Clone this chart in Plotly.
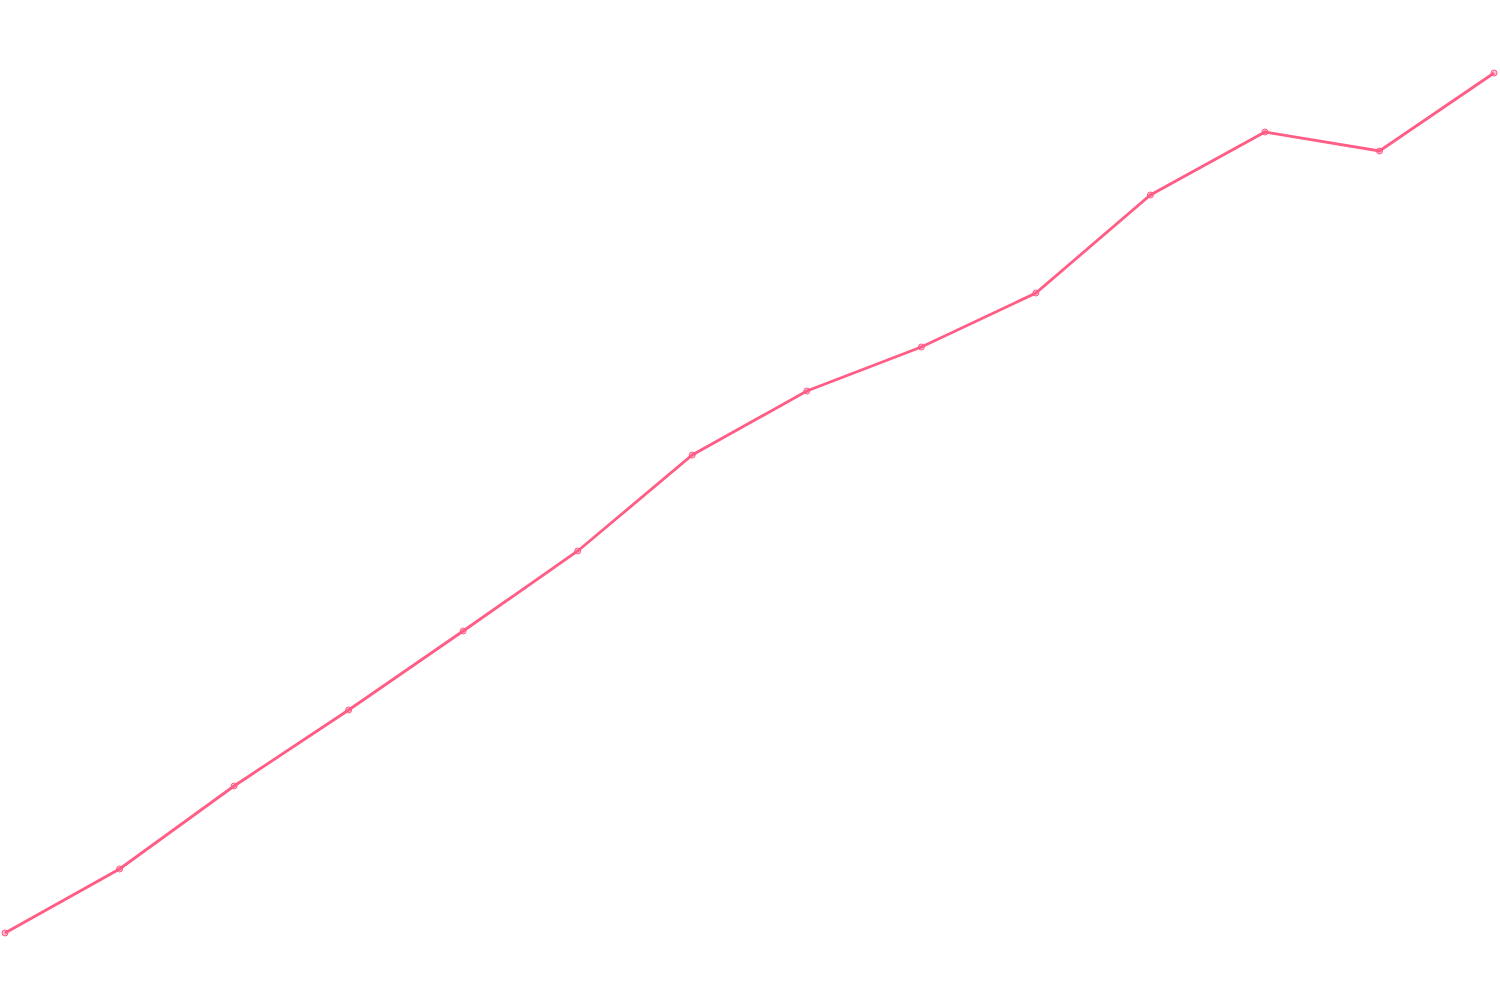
import plotly.graph_objects as go

# Data points (index, value)
steps = list(range(14))
values = [6.7, 13.1, 21.4, 29.0, 36.9, 44.9, 54.5, 60.9, 65.3, 70.7, 80.5, 86.8, 84.9, 92.7]

line_color = "#ff5c86"

fig = go.Figure()
fig.add_trace(go.Scatter(
    x=steps, y=values, mode="lines+markers",
    line=dict(color=line_color, width=2.8),
    marker=dict(size=6, color="rgba(255,92,134,0.4)",
                line=dict(color=line_color, width=1)),
    hoverinfo="x+y", showlegend=False,
))

fig.update_layout(
    width=1500, height=1000,
    margin=dict(l=0, r=0, t=0, b=0),
    paper_bgcolor="white", plot_bgcolor="white",
    xaxis=dict(visible=False, range=[-0.0437, 13.052]),
    yaxis=dict(visible=False, range=[0, 100]),
)

# drop the default body margin so the figure sits at the page corner
fig.write_html("out.html", config={"displayModeBar": False},
               post_script="document.body.style.margin='0';")
